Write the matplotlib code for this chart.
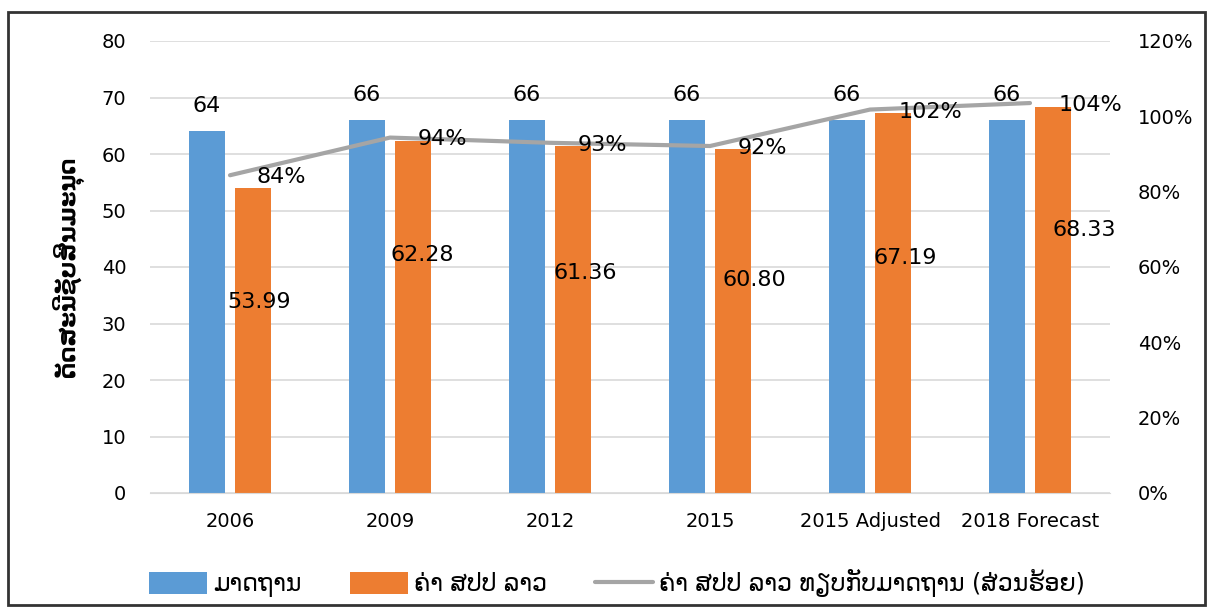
import numpy as np
import matplotlib
matplotlib.use('Agg')
import matplotlib.pyplot as plt
from matplotlib.patches import Rectangle

categories = ['2006', '2009', '2012', '2015', '2015 Adjusted', '2018 Forecast']
standard = [64, 66, 66, 66, 66, 66]
lao = [53.99, 62.28, 61.36, 60.80, 67.19, 68.33]
ratio = [0.8436, 0.9436, 0.9297, 0.9212, 1.0180, 1.0353]

# label placement (offset from category centre, y in data units)
lao_lbl_pos = [(0.18, 33.8), (0.20, 42.1), (0.22, 38.9), (0.28, 37.7), (0.22, 41.6), (0.34, 46.5)]
pct_lbl_pos = [(0.32, 0.839), (0.325, 0.940), (0.325, 0.924), (0.325, 0.916), (0.38, 1.012), (0.38, 1.030)]

plt.rcParams['font.family'] = ['DejaVu Sans']

blue = '#5B9BD5'
orange = '#ED7D31'
grey = '#A5A5A5'

fig = plt.figure(figsize=(12.11, 6.12), dpi=100)
fig.patches.append(Rectangle((8/1211, 1-605/612), 1197/1211, 593/612,
                             transform=fig.transFigure, fill=False,
                             edgecolor='#333333', linewidth=2))

ax = fig.add_axes([150/1211, 1-493/612, 960/1211, 452/612])
x = np.arange(len(categories))
w = 0.225
b1 = ax.bar(x-0.145, standard, w, color=blue, label='ມາດຖານ', zorder=2)
b2 = ax.bar(x+0.145, lao, w, color=orange, label='ຄ່າ ສປປ ລາວ', zorder=2)

ax.set_xlim(-0.5, 5.5)
ax.set_ylim(0, 80)
ax.set_yticks(np.arange(0, 81, 10))
ax.set_xticks(x)
ax.set_xticklabels(categories)
ax.tick_params(axis='y', length=0, pad=17, labelsize=14)
ax.tick_params(axis='x', length=0, pad=14, labelsize=14)
ax.grid(axis='y', color='#D9D9D9', linewidth=1.2, zorder=0)
ax.set_axisbelow(True)
for s in ['top', 'right', 'left']:
    ax.spines[s].set_visible(False)
ax.spines['bottom'].set_color('#D9D9D9')
ax.set_ylabel('ດັດສະນີຊັບສິນມະນຸດ', fontsize=16.5, fontweight='bold', labelpad=13)

for i, v in enumerate(standard):
    ax.text(x[i]-0.145, v+4.5, f'{v}', ha='center', va='center', fontsize=16)
for i, v in enumerate(lao):
    dx, dy = lao_lbl_pos[i]
    ax.text(x[i]+dx, dy, f'{v:.2f}', ha='center', va='center', fontsize=16)

ax2 = ax.twinx()
ln, = ax2.plot(x, ratio, color=grey, linewidth=3, solid_capstyle='round',
               label='ຄ່າ ສປປ ລາວ ທຽບກັບມາດຖານ (ສ່ວນຮ້ອຍ)', zorder=3)
ax2.set_ylim(0, 1.2)
ax2.set_yticks(np.arange(0, 1.21, 0.2))
ax2.set_yticklabels([f'{int(round(t*100))}%' for t in np.arange(0, 1.21, 0.2)])
ax2.tick_params(axis='y', length=0, pad=20, labelsize=14)
for s in ax2.spines.values():
    s.set_visible(False)
for i, v in enumerate(ratio):
    dx, dy = pct_lbl_pos[i]
    ax2.text(x[i]+dx, dy, f'{v*100:.0f}%', ha='center', va='center', fontsize=16)

fig.legend(handles=[b1, b2, ln], loc='center', bbox_to_anchor=(617/1211, 1-583/612),
           ncol=3, frameon=False, fontsize=17, handlelength=2.45,
           handleheight=1.0, columnspacing=2.05, handletextpad=0.25)

fig.savefig('out.png', dpi=100)
